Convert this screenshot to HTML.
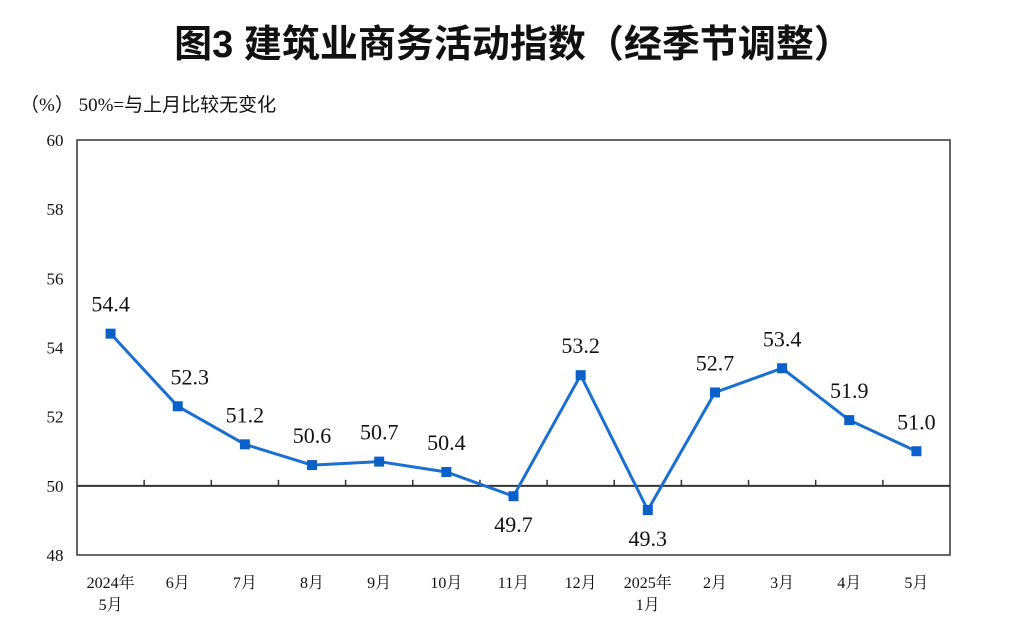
<!DOCTYPE html>
<html><head><meta charset="utf-8"><style>
body{margin:0;background:#fff;}
svg text{font-family:"Liberation Serif","Noto Serif CJK SC",serif;fill:#111;}
</style></head><body>
<svg width="1024" height="634">
<text x="513" y="57" text-anchor="middle" font-size="38" font-weight="bold" style="font-family:'Liberation Sans','Noto Sans CJK SC',sans-serif">图3  建筑业商务活动指数（经季节调整）</text>
<text x="20" y="111" font-size="19" style="font-family:'Liberation Serif','Noto Sans CJK SC',serif">（%）  50%=与上月比较无变化</text>
<rect x="77" y="140" width="873" height="415" fill="none" stroke="#333" stroke-width="1.5"/>
<g id="yt"></g><g id="xt"></g><g id="series"></g>
</svg>
<script>
const categories=["2024年|5月","6月","7月","8月","9月","10月","11月","12月","2025年|1月","2月","3月","4月","5月"];
const values=[54.4,52.3,51.2,50.6,50.7,50.4,49.7,53.2,49.3,52.7,53.4,51.9,51.0];
const valueLabels=["54.4","52.3","51.2","50.6","50.7","50.4","49.7","53.2","49.3","52.7","53.4","51.9","51.0"];
const yTicks=[48,50,52,54,56,58,60];
const NS="http://www.w3.org/2000/svg";
const L=77,R=950,T=140,B=555,ymin=48,ymax=60;
const y=v=>B-(v-ymin)/(ymax-ymin)*(B-T);
const step=(R-L)/categories.length;
const x=i=>L+step*(i+0.5);
function mk(tag,attrs,parent,txt){const e=document.createElementNS(NS,tag);for(const k in attrs)e.setAttribute(k,attrs[k]);if(txt!==undefined)e.textContent=txt;parent.appendChild(e);return e;}
const yt=document.getElementById('yt'),xt=document.getElementById('xt'),sg=document.getElementById('series');
yTicks.forEach(v=>{const t=mk('text',{x:55,y:y(v)+6,'text-anchor':'middle','font-size':17},yt,String(v));

});
const base=mk('line',{x1:L,x2:R,y1:y(50),y2:y(50),stroke:'#333','stroke-width':2},xt);


for(let i=1;i<categories.length;i++){const tk=mk('line',{x1:L+step*i,x2:L+step*i,y1:y(50),y2:y(50)-6,stroke:'#333','stroke-width':1.5},xt);

}
categories.forEach((c,i)=>{const parts=c.split('|');parts.forEach((p,j)=>{const t=mk('text',{x:x(i),y:588+j*22,'text-anchor':'middle','font-size':16},xt,p);

});});
const pts=values.map((v,i)=>x(i)+','+y(v)).join(' ');
const pl=mk('polyline',{points:pts,fill:'none',stroke:'#1a6fd0','stroke-width':3},sg);


values.forEach((v,i)=>{const m=mk('rect',{x:x(i)-5,y:y(v)-5,width:10,height:10,fill:'#0a5fc8'},sg);


const below=(i===6||i===8);
const ly=below?y(v)+36:y(v)-22;
const lx=(i===1)?x(i)+12:x(i);
const t=mk('text',{x:lx,y:ly,'text-anchor':'middle','font-size':22},sg,valueLabels[i]);

});
</script>
</body></html>
